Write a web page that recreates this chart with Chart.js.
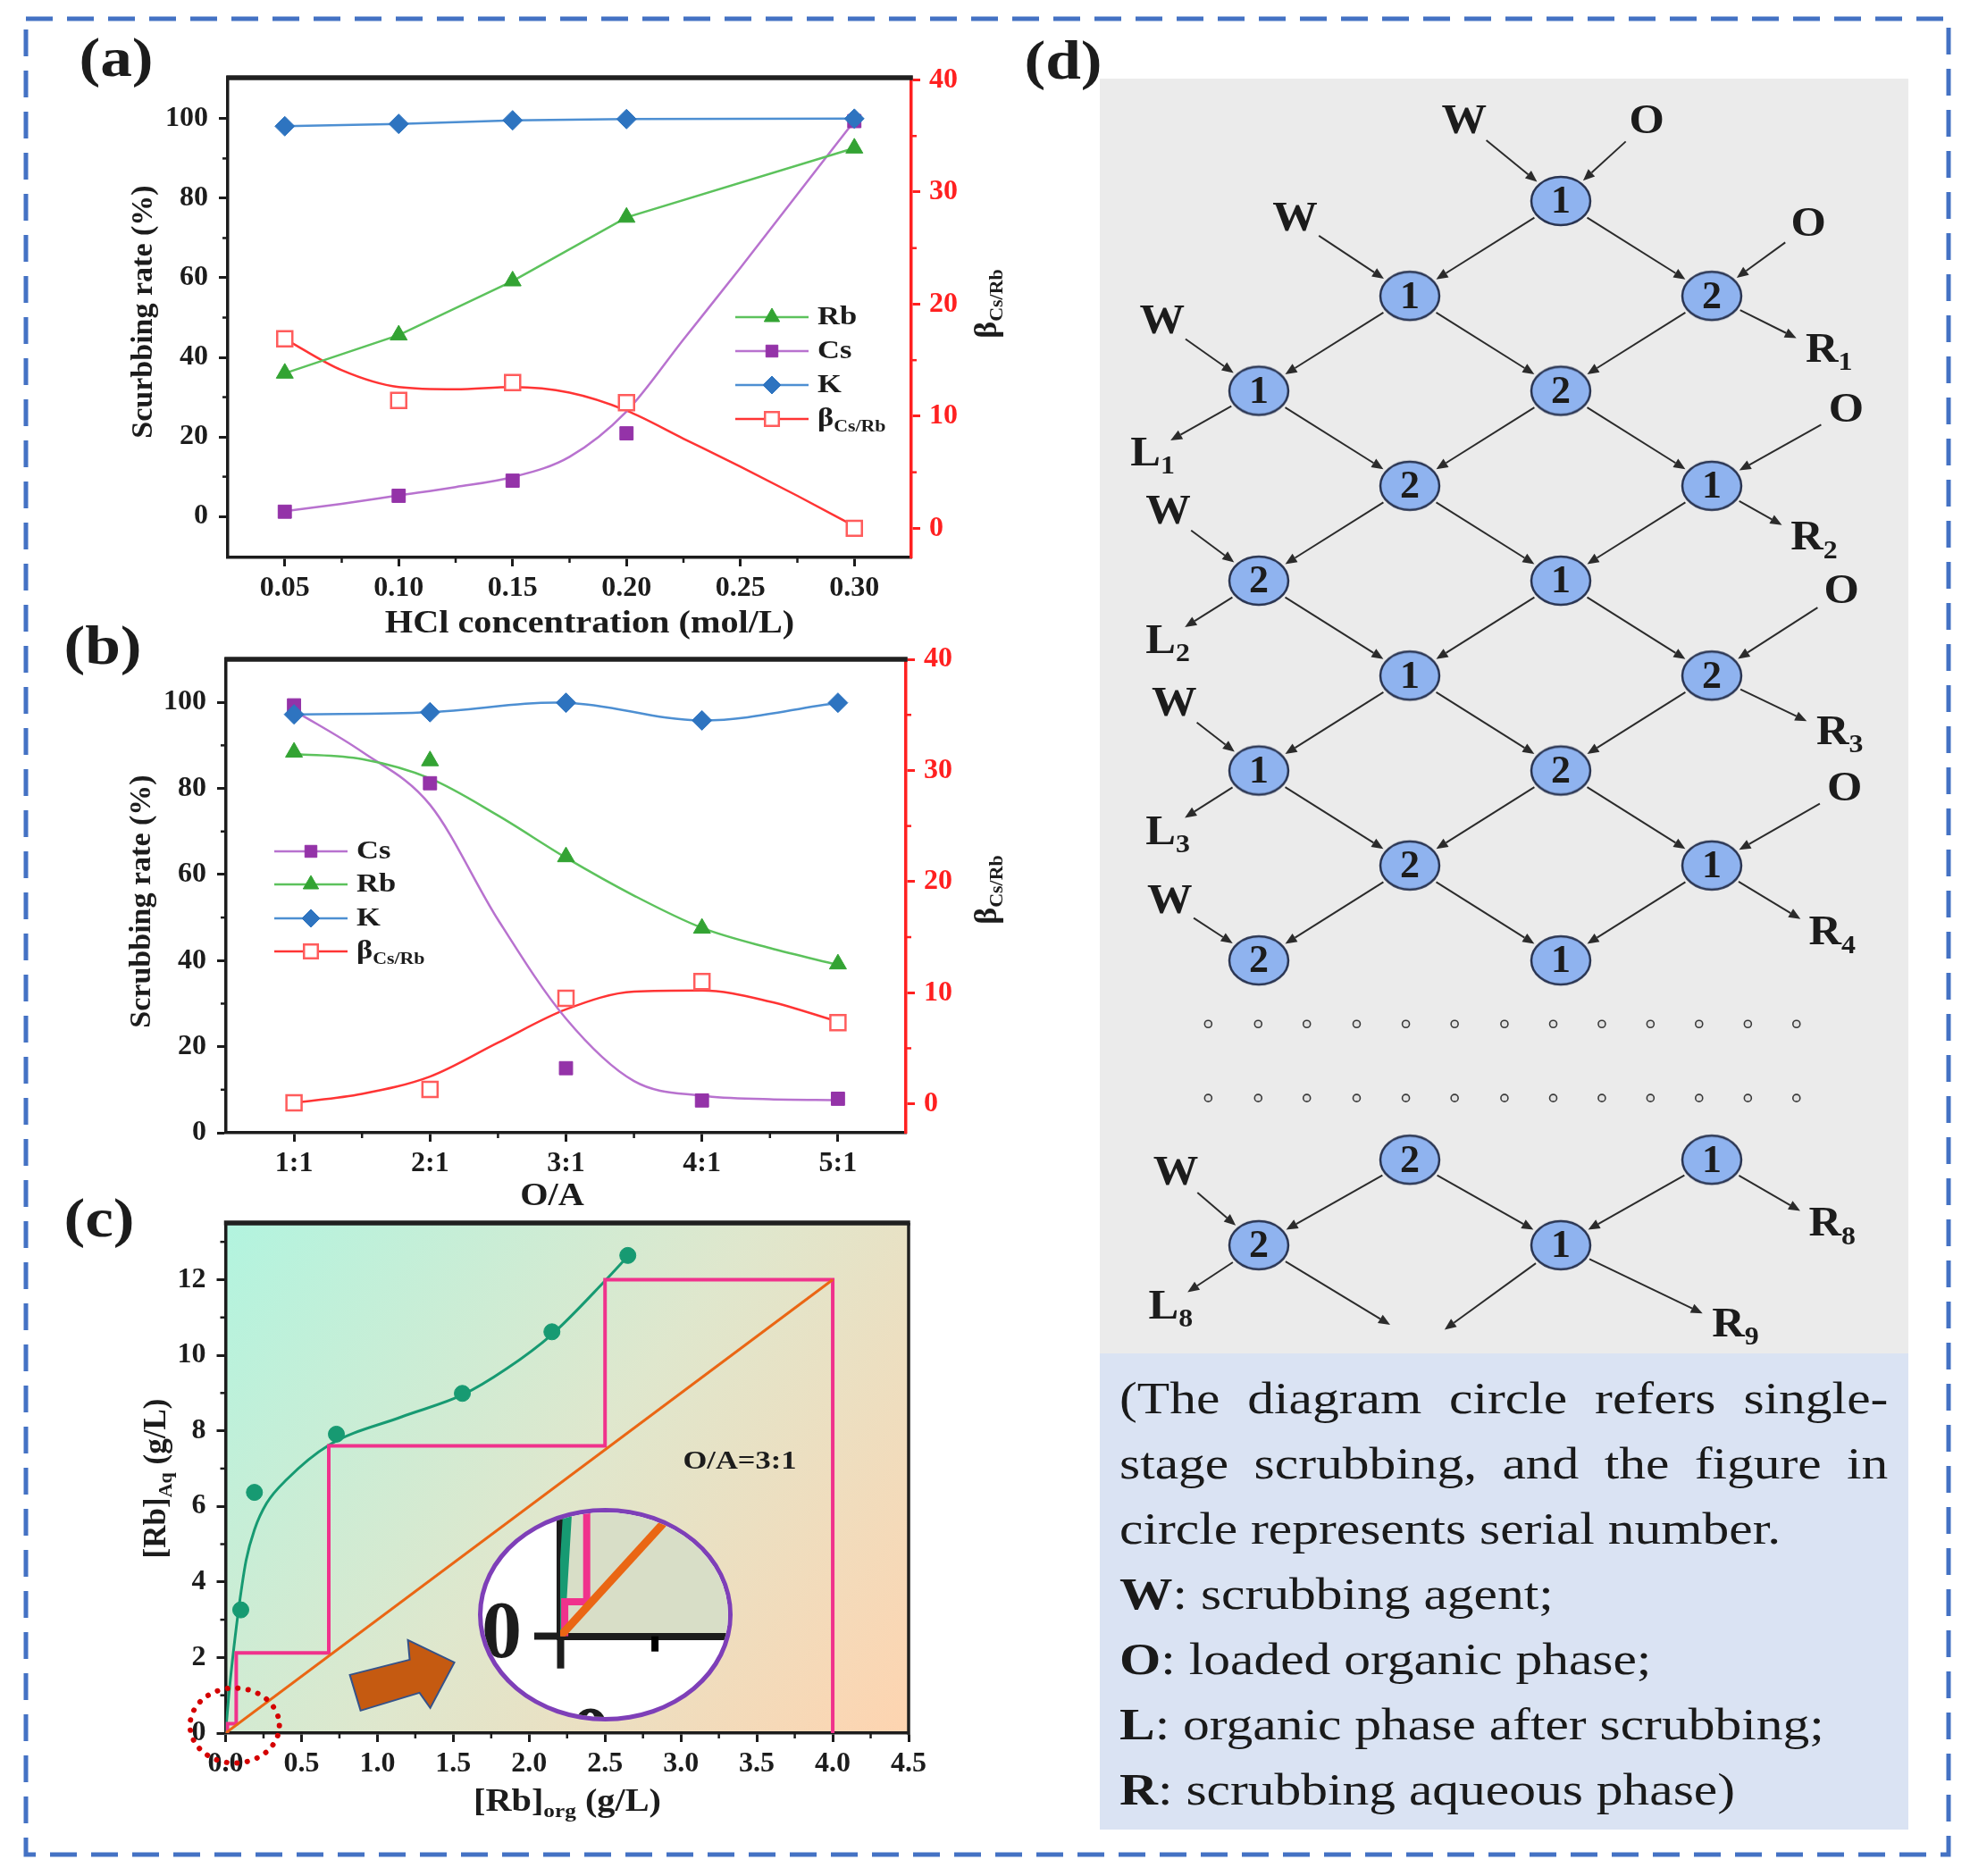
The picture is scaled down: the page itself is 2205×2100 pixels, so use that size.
<!DOCTYPE html>
<html>
<head>
<meta charset="utf-8">
<script src="https://cdn.jsdelivr.net/npm/chart.js@4.4.1/dist/chart.umd.min.js"></script>
<style>
  html, body { margin: 0; padding: 0; background: #fff; }
  body { width: 2205px; height: 2100px; position: relative; overflow: hidden; }
  canvas { position: absolute; left: 0; top: 0; }
  #insetWrap { position: absolute; left: 535px; top: 1688px; width: 275px; height: 229px;
    border: 5px solid #7e3fb8; border-radius: 50%; overflow: hidden; background: #fff; }
  #diagram { left: 1231px; top: 88px; background: #ebebeb; }
  #note { position: absolute; left: 1231px; top: 1515px; width: 905px; height: 533px; background: #dae3f3; }
  #note .inner { position: absolute; left: 22px; top: 14px; width: 723px; transform: scaleX(1.19); transform-origin: 0 0;
    font: 50px 'Liberation Serif', 'Times New Roman', serif; line-height: 73px; color: #1a1a1a; white-space: nowrap; }
  #note .j { text-align: justify; text-align-last: justify; white-space: normal; }
  #border { position: absolute; left: 0; top: 0; pointer-events: none; }
</style>
</head>
<body>
<canvas id="chartA" width="2205" height="2100"></canvas>
<canvas id="chartB" width="2205" height="2100"></canvas>
<canvas id="chartC" width="2205" height="2100"></canvas>
<div id="insetWrap"><canvas id="inset" width="275" height="229"></canvas></div>
<canvas id="diagram" width="905" height="1427"></canvas>
<div id="note"><div class="inner">
  <div class="j">(The diagram circle refers single-</div>
  <div class="j">stage scrubbing, and the figure in</div>
  <div>circle represents serial number.</div>
  <div><b>W</b>: scrubbing agent;</div>
  <div><b>O</b>: loaded organic phase;</div>
  <div><b>L</b>: organic phase after scrubbing;</div>
  <div><b>R</b>: scrubbing aqueous phase)</div>
</div></div>
<svg id="border" width="2205" height="2100">
  <rect x="29" y="21" width="2152" height="2055" fill="none" stroke="#4472c4" stroke-width="5" stroke-dasharray="30 16"/>
</svg>

<script>
// ---- (a) scrubbing vs HCl concentration ----
const hclConc  = [0.05, 0.10, 0.15, 0.20, 0.30];
const aRb      = [36.0, 45.6, 59.2, 75.2, 92.6];
const aCs      = [1.2, 5.2, 9.0, 20.9, 99.4];
const aK       = [98.1, 98.7, 99.6, 99.9, 100.0];
const aBeta    = [16.9, 11.4, 13.0, 11.2, 0.0];
// fitted curves
const aFitX    = [0.05, 0.075, 0.10, 0.125, 0.15, 0.175, 0.20, 0.225, 0.25, 0.275, 0.30];
const aCsFit   = [1.3, 3.2, 5.3, 7.4, 9.9, 15.0, 26.4, 44.5, 62.5, 81.0, 99.4];
const aBetaFit = [16.9, 14.1, 12.6, 12.4, 12.6, 12.1, 10.5, 8.0, 5.5, 2.9, 0.2];
const aXTicks  = [0.05, 0.10, 0.15, 0.20, 0.25, 0.30];
const aXLabels = ['0.05', '0.10', '0.15', '0.20', '0.25', '0.30'];
const aXMinor  = [0.075, 0.125, 0.175, 0.225, 0.275];

// ---- (b) scrubbing vs O/A ratio ----
const oaRatio  = [1, 2, 3, 4, 5];
const oaLabels = ['1:1', '2:1', '3:1', '4:1', '5:1'];
const oaMinor  = [1.5, 2.5, 3.5, 4.5];
const bCs      = [99.3, 81.2, 15.0, 7.5, 7.9];
const bRb      = [88.4, 86.4, 64.1, 47.5, 39.2];
const bK       = [97.2, 97.7, 99.9, 95.8, 99.9];
const bBeta    = [0.1, 1.3, 9.5, 11.0, 7.3];
const bFitX    = [1, 1.5, 2, 2.5, 3, 3.5, 4, 4.5, 5];
const bCsFit   = [98.1, 88.5, 76.2, 49.5, 26.5, 12.0, 8.6, 7.8, 7.6];
const bRbFit   = [88.0, 86.8, 82.3, 73.7, 63.9, 55.1, 47.6, 42.9, 39.0];
const bBetaFit = [0.1, 0.9, 2.45, 5.5, 8.5, 10.1, 10.2, 9.2, 7.4];

// shared rate / beta axes
const rateTicks = [0, 20, 40, 60, 80, 100];
const rateMinor = [10, 30, 50, 70, 90];
const betaTicks = [0, 10, 20, 30, 40];
const betaMinor = [5, 15, 25, 35];

// ---- (c) McCabe-Thiele diagram ----
const eqOrg    = [0.10, 0.19, 0.73, 1.56, 2.15, 2.65];
const eqAq     = [3.26, 6.37, 7.91, 8.99, 10.62, 12.64];
const eqFitOrg = [0, 0.023, 0.054, 0.09, 0.135, 0.19, 0.27, 0.405, 0.68, 1.16, 1.56, 1.85, 2.15, 2.5, 2.65];
const eqFitAq  = [0, 1.07, 2.24, 3.4, 4.57, 5.38, 6.08, 6.72, 7.62, 8.37, 8.95, 9.64, 10.55, 11.97, 12.62];
const opOrg    = [0, 4.0];
const opAq     = [0, 12.0];
const stairOrg = [4.0, 4.0, 2.5, 2.5, 0.68, 0.68, 0.07, 0.07, 0.012, 0.012];
const stairAq  = [0, 12.0, 12.0, 7.6, 7.6, 2.12, 2.12, 0.25, 0.25, 0];
const orgTicks  = [0, 0.5, 1, 1.5, 2, 2.5, 3, 3.5, 4, 4.5];
const orgLabels = ['0.0', '0.5', '1.0', '1.5', '2.0', '2.5', '3.0', '3.5', '4.0', '4.5'];
const orgMinor  = [0.25, 0.75, 1.25, 1.75, 2.25, 2.75, 3.25, 3.75, 4.25];
const aqTicks   = [0, 2, 4, 6, 8, 10, 12];
const aqMinor   = [1, 3, 5, 7, 9, 11, 13];

// ---- (d) counter-current scrubbing cascade ----
// [column, row, serial number]
const stageNodes = [
  [2, 0, 1],
  [1, 1, 1], [3, 1, 2],
  [0, 2, 1], [2, 2, 2],
  [1, 3, 2], [3, 3, 1],
  [0, 4, 2], [2, 4, 1],
  [1, 5, 1], [3, 5, 2],
  [0, 6, 1], [2, 6, 2],
  [1, 7, 2], [3, 7, 1],
  [0, 8, 2], [2, 8, 1],
  [1, 10.1, 2], [3, 10.1, 1],
  [0, 11, 2], [2, 11, 1]
];
// [column, row, letter, subscript]
const streamLabels = [
  [1.36, -0.83, 'W', ''], [2.57, -0.83, 'O', ''],
  [0.24, 0.20, 'W', ''], [3.64, 0.26, 'O', ''],
  [-0.64, 1.28, 'W', ''], [3.73, 1.58, 'R', '1'],
  [-0.75, 2.67, 'L', '1'], [3.89, 2.21, 'O', ''],
  [-0.60, 3.29, 'W', ''], [3.63, 3.56, 'R', '2'],
  [-0.65, 4.65, 'L', '2'], [3.86, 4.12, 'O', ''],
  [-0.56, 5.31, 'W', ''], [3.80, 5.61, 'R', '3'],
  [-0.65, 6.66, 'L', '3'], [3.88, 6.20, 'O', ''],
  [-0.59, 7.39, 'W', ''], [3.75, 7.72, 'R', '4'],
  [-0.55, 10.25, 'W', ''], [3.75, 10.79, 'R', '8'],
  [-0.63, 11.66, 'L', '8'], [3.11, 11.85, 'R', '9']
];
const openEnds = [[0.87, 11.84], [1.23, 11.89]];
const stageFlows = [
  ['s0', 'n0'], ['s1', 'n0'],
  ['n0', 'n1'], ['n0', 'n2'], ['s2', 'n1'], ['s3', 'n2'],
  ['n1', 'n3'], ['n1', 'n4'], ['n2', 'n4'], ['n2', 's5'], ['s4', 'n3'],
  ['n3', 's6'], ['n3', 'n5'], ['n4', 'n5'], ['n4', 'n6'], ['s7', 'n6'],
  ['n5', 'n7'], ['n5', 'n8'], ['n6', 'n8'], ['n6', 's9'], ['s8', 'n7'],
  ['n7', 's10'], ['n7', 'n9'], ['n8', 'n9'], ['n8', 'n10'], ['s11', 'n10'],
  ['n9', 'n11'], ['n9', 'n12'], ['n10', 'n12'], ['n10', 's13'], ['s12', 'n11'],
  ['n11', 's14'], ['n11', 'n13'], ['n12', 'n13'], ['n12', 'n14'], ['s15', 'n14'],
  ['n13', 'n15'], ['n13', 'n16'], ['n14', 'n16'], ['n14', 's17'], ['s16', 'n15'],
  ['n17', 'n19'], ['n17', 'n20'], ['n18', 'n20'], ['n18', 's19'], ['s18', 'n19'],
  ['n19', 's20'], ['n19', 'e0'], ['n20', 'e1'], ['n20', 's21']
];
const dotCols = [-0.335, -0.004, 0.318, 0.648, 0.974, 1.297, 1.627, 1.950, 2.272, 2.594, 2.916, 3.239, 3.561];
const dotRows = [8.67, 9.45];

// ---------------------------------------------------------------
const PAGE_W = 2205, PAGE_H = 2100;
const FONT = "'Liberation Serif', 'Times New Roman', serif";
const INK = '#1c1c1c', RED = '#ff2020';
const C_RB = '#5cc25c', C_RB_PT = '#33a333';
const C_CS = '#b872cf', C_CS_PT = '#9433a8';
const C_K = '#4d8fd2', C_K_PT = '#2e74c0';
const C_BETA = '#ff3434', C_BETA_PT = '#ff5c5c';
const C_EQ = '#179a72', C_STAGE = '#f0328c', C_OP = '#ea6614';

const AREA_A = { left: 255, right: 1020, top: 87, bottom: 624 };
const AREA_B = { left: 253, right: 1014, top: 738, bottom: 1268 };
const AREA_C = { left: 252.5, right: 1017, top: 1369, bottom: 1940 };

Chart.defaults.font.family = FONT;
Chart.defaults.animation = false;
Chart.defaults.responsive = false;
Chart.defaults.events = [];
Chart.defaults.plugins.legend.display = false;
Chart.defaults.plugins.tooltip.enabled = false;

function pts(xs, ys) { return xs.map((x, i) => ({ x: x, y: ys[i] })); }

// rich text: runs = [[text, isSubscript], ...]
function drawRich(ctx, runs, x, y, o) {
  if (typeof runs === 'string') runs = [[runs, 0]];
  const size = o.size || 34, sub = Math.round(size * 0.62);
  const fontOf = s => 'bold ' + (s ? sub : size) + 'px ' + FONT;
  ctx.save();
  ctx.translate(x, y);
  if (o.rot) ctx.rotate(o.rot);
  ctx.scale(o.sx || 1, 1);
  ctx.textBaseline = 'middle';
  ctx.textAlign = 'left';
  ctx.fillStyle = o.color || INK;
  let w = 0;
  runs.forEach(r => { ctx.font = fontOf(r[1]); w += ctx.measureText(r[0]).width; });
  ctx.font = fontOf(runs[0][1]);
  let cx = o.align === 'left' ? 0 : o.align === 'first' ? -ctx.measureText(runs[0][0]).width / 2 : -w / 2;
  runs.forEach(r => {
    ctx.font = fontOf(r[1]);
    ctx.fillText(r[0], cx, r[1] ? size * 0.3 : 0);
    cx += ctx.measureText(r[0]).width;
  });
  ctx.restore();
}

function axis(o) {
  const ink = o.color || INK;
  return {
    type: 'linear', position: o.pos, min: o.min, max: o.max,
    afterFit: s => {
      if (o.pos === 'bottom') s.height = o.size; else s.width = o.size;
      s.paddingTop = s.paddingBottom = s.paddingLeft = s.paddingRight = 0;
    },
    afterBuildTicks: s => { s.ticks = o.ticks.map(v => ({ value: v })); },
    ticks: {
      color: ink, padding: o.pad ?? 8, maxRotation: 0, minRotation: 0, autoSkip: false,
      labelOffset: o.shift || 0,
      font: { family: FONT, size: o.font || 32, weight: 'bold' },
      callback: (v, i) => (o.labels ? o.labels[i] : String(v))
    },
    grid: { display: true, drawOnChartArea: false, drawTicks: true, tickLength: o.tick ?? 10,
            tickWidth: o.tw || 3, tickColor: ink },
    border: { display: true, width: o.bw || 3.5, color: ink }
  };
}

function markerSet(label, data, style, fill, extra) {
  return Object.assign({
    label: label, data: data, showLine: false, pointStyle: style, pointRadius: 11,
    pointBackgroundColor: fill, pointBorderColor: fill, pointBorderWidth: 1,
    borderWidth: 2.5, borderColor: fill, tension: 0, yAxisID: 'y'
  }, extra || {});
}
function curveSet(label, data, color, extra) {
  return Object.assign({
    label: label, data: data, showLine: true, pointRadius: 0, borderColor: color,
    borderWidth: 2.5, cubicInterpolationMode: 'monotone', yAxisID: 'y'
  }, extra || {});
}

function textPlugin(id, items) {
  return { id: id, afterDraw(chart) { items.forEach(it => drawRich(chart.ctx, it.t, it.x, it.y, it)); } };
}
function minorPlugin(id, list) {
  return { id: id, afterDraw(chart) {
    const ctx = chart.ctx;
    list.forEach(([sid, vals, len, color, width]) => {
      const s = chart.scales[sid];
      ctx.save();
      ctx.strokeStyle = color; ctx.lineWidth = width;
      vals.forEach(v => {
        const p = s.getPixelForValue(v);
        ctx.beginPath();
        if (s.isHorizontal()) { ctx.moveTo(p, s.top); ctx.lineTo(p, s.top + len); }
        else if (s.position === 'left') { ctx.moveTo(s.right, p); ctx.lineTo(s.right - len, p); }
        else { ctx.moveTo(s.left, p); ctx.lineTo(s.left + len, p); }
        ctx.stroke();
      });
      ctx.restore();
    });
  }};
}
function framePlugin(id, withRight) {
  return { id: id, afterDraw(chart) {
    const a = chart.chartArea, ctx = chart.ctx;
    ctx.save();
    ctx.strokeStyle = '#202020';
    ctx.lineWidth = 5.5;
    ctx.beginPath(); ctx.moveTo(a.left - 1.75, a.top); ctx.lineTo(a.right + 1.75, a.top); ctx.stroke();
    if (withRight) {
      ctx.lineWidth = 3.5;
      ctx.beginPath(); ctx.moveTo(a.right, a.top); ctx.lineTo(a.right, a.bottom + 1.75); ctx.stroke();
    }
    ctx.restore();
  }};
}
function legendPlugin(id, items, x0, ys) {
  return { id: id, afterDraw(chart) {
    const ctx = chart.ctx;
    items.forEach((it, i) => {
      const y = ys[i], ds = chart.data.datasets[it.ds];
      ctx.save();
      ctx.strokeStyle = it.line; ctx.lineWidth = 2.5;
      ctx.beginPath(); ctx.moveTo(x0, y); ctx.lineTo(x0 + 82, y); ctx.stroke();
      ctx.fillStyle = ds.pointBackgroundColor; ctx.strokeStyle = ds.pointBorderColor;
      ctx.lineWidth = ds.pointBorderWidth;
      Chart.helpers.drawPoint(ctx, { pointStyle: ds.pointStyle, radius: ds.pointRadius - 1, rotation: 0,
        borderWidth: ds.pointBorderWidth }, x0 + 41, y);
      ctx.restore();
      drawRich(ctx, it.text, x0 + 92, y, { size: 30, sx: 1.15, align: 'left' });
    });
  }};
}
function pinnedLayout(area, rightPad) {
  return { autoPadding: false, padding: { top: area.top, left: 0, right: rightPad || 0, bottom: 0 } };
}
const BETA = [['β', 0], ['Cs/Rb', 1]];

// ------------------------- chart (a) -------------------------
const dsA = [
  markerSet('K', pts(hclConc, aK), 'rectRot', C_K_PT, { showLine: true, borderColor: C_K }),
  markerSet('Rb', pts(hclConc, aRb), 'triangle', C_RB_PT, { showLine: true, borderColor: C_RB }),
  markerSet('Cs', pts(hclConc, aCs), 'rect', C_CS_PT, { pointRadius: 10.5 }),
  markerSet('β', pts(hclConc, aBeta), 'rect', '#ffffff', { pointBorderColor: C_BETA_PT, pointBorderWidth: 2.5, pointRadius: 12, yAxisID: 'y1' }),
  curveSet('Cs fit', pts(aFitX, aCsFit), C_CS),
  curveSet('β fit', pts(aFitX, aBetaFit), C_BETA, { yAxisID: 'y1' })
];
new Chart(document.getElementById('chartA'), {
  type: 'line',
  data: { datasets: dsA },
  options: {
    layout: pinnedLayout(AREA_A),
    scales: {
      x: axis({ pos: 'bottom', min: 0.025, max: 0.325, ticks: aXTicks, labels: aXLabels, size: PAGE_H - AREA_A.bottom, pad: 6 }),
      y: axis({ pos: 'left', min: -10.3, max: 110.3, ticks: rateTicks, size: AREA_A.left, pad: 12 }),
      y1: axis({ pos: 'right', min: -2.6, max: 40.2, ticks: betaTicks, size: PAGE_W - AREA_A.right, color: RED, pad: 10 })
    }
  },
  plugins: [
    framePlugin('frameA', false),
    minorPlugin('minorA', [['x', aXMinor, 6, INK, 2.5], ['y', rateMinor, 6, INK, 2.5], ['y1', betaMinor, 6, RED, 2.5]]),
    legendPlugin('legendA', [
      { ds: 1, line: C_RB, text: 'Rb' }, { ds: 2, line: C_CS, text: 'Cs' },
      { ds: 0, line: C_K, text: 'K' }, { ds: 3, line: C_BETA, text: BETA }
    ], 823, [355, 393, 431, 469]),
    textPlugin('textA', [
      { t: '(a)', x: 130, y: 69, size: 62, sx: 1.15 },
      { t: '(d)', x: 1190, y: 72, size: 62, sx: 1.15 },
      { t: 'Scurbbing rate (%)', x: 161, y: 349, size: 34, rot: -Math.PI / 2 },
      { t: 'HCl concentration (mol/L)', x: 660, y: 699, size: 35, sx: 1.15 },
      { t: BETA, x: 1106, y: 340, size: 36, rot: -Math.PI / 2 }
    ])
  ]
});

// ------------------------- chart (b) -------------------------
const dsB = [
  markerSet('K', pts(oaRatio, bK), 'rectRot', C_K_PT, { showLine: true, borderColor: C_K, tension: 0.35 }),
  markerSet('Rb', pts(oaRatio, bRb), 'triangle', C_RB_PT),
  markerSet('Cs', pts(oaRatio, bCs), 'rect', C_CS_PT, { pointRadius: 10.5 }),
  markerSet('β', pts(oaRatio, bBeta), 'rect', '#ffffff', { pointBorderColor: C_BETA_PT, pointBorderWidth: 2.5, pointRadius: 12, yAxisID: 'y1' }),
  curveSet('Rb fit', pts(bFitX, bRbFit), C_RB),
  curveSet('Cs fit', pts(bFitX, bCsFit), C_CS),
  curveSet('β fit', pts(bFitX, bBetaFit), C_BETA, { yAxisID: 'y1' })
];
new Chart(document.getElementById('chartB'), {
  type: 'line',
  data: { datasets: dsB },
  options: {
    layout: pinnedLayout(AREA_B),
    scales: {
      x: axis({ pos: 'bottom', min: 0.5, max: 5.5, ticks: oaRatio, labels: oaLabels, size: PAGE_H - AREA_B.bottom, pad: 6 }),
      y: axis({ pos: 'left', min: 0, max: 110, ticks: rateTicks, size: AREA_B.left, pad: 12 }),
      y1: axis({ pos: 'right', min: -2.6, max: 40, ticks: betaTicks, size: PAGE_W - AREA_B.right, color: RED, pad: 10 })
    }
  },
  plugins: [
    framePlugin('frameB', false),
    minorPlugin('minorB', [['x', oaMinor, 6, INK, 2.5], ['y', rateMinor, 6, INK, 2.5], ['y1', betaMinor, 6, RED, 2.5]]),
    legendPlugin('legendB', [
      { ds: 2, line: C_CS, text: 'Cs' }, { ds: 1, line: C_RB, text: 'Rb' },
      { ds: 0, line: C_K, text: 'K' }, { ds: 3, line: C_BETA, text: BETA }
    ], 307, [953, 990, 1028, 1065]),
    textPlugin('textB', [
      { t: '(b)', x: 115, y: 727, size: 62, sx: 1.15 },
      { t: 'Scrubbing rate (%)', x: 159, y: 1009, size: 34, rot: -Math.PI / 2 },
      { t: 'O/A', x: 618, y: 1340, size: 35, sx: 1.15 },
      { t: BETA, x: 1106, y: 996, size: 36, rot: -Math.PI / 2 }
    ])
  ]
});

// ------------------------- chart (c) -------------------------
const zoomMark = { x: 0.06, y: 0.2, rx: 50, ry: 42 };
const pointerAt = { x: 1.16, y: 1.54 };
const pointerShape = [[-58, 0], [9, -17], [7, -39], [59, -14], [32, 37], [20, 20], [-46, 40]];

function stageSets(w) {
  return [
    { label: 'operating line', data: pts(opOrg, opAq), showLine: true, pointRadius: 0, borderColor: C_OP, borderWidth: w[0], tension: 0 },
    { label: 'stages', data: pts(stairOrg, stairAq), showLine: true, pointRadius: 0, borderColor: C_STAGE, borderWidth: w[1], tension: 0 },
    curveSet('equilibrium curve', pts(eqFitOrg, eqFitAq), C_EQ, { borderWidth: w[2] })
  ];
}
const dsC = [
  { label: 'equilibrium data', data: pts(eqOrg, eqAq), showLine: false, pointStyle: 'circle', pointRadius: 9,
    pointBackgroundColor: C_EQ, pointBorderColor: C_EQ, yAxisID: 'y' }
].concat(stageSets([3, 4, 3]));

new Chart(document.getElementById('chartC'), {
  type: 'line',
  data: { datasets: dsC },
  options: {
    layout: pinnedLayout(AREA_C, PAGE_W - AREA_C.right),
    scales: {
      x: axis({ pos: 'bottom', min: 0, max: 4.5, ticks: orgTicks, labels: orgLabels, size: PAGE_H - AREA_C.bottom, pad: 6 }),
      y: axis({ pos: 'left', min: 0, max: 13.5, ticks: aqTicks, size: AREA_C.left, pad: 12 })
    }
  },
  plugins: [
    { id: 'gradientBg', beforeDraw(chart) {
      const a = chart.chartArea, ctx = chart.ctx;
      const g = ctx.createLinearGradient(a.left, a.top, a.right, a.bottom);
      g.addColorStop(0, '#b2f4df');
      g.addColorStop(0.5, '#dfe7cd');
      g.addColorStop(1, '#fed4b0');
      ctx.save(); ctx.fillStyle = g; ctx.fillRect(a.left, a.top, a.right - a.left, a.bottom - a.top); ctx.restore();
    }},
    framePlugin('frameC', true),
    minorPlugin('minorC', [['x', orgMinor, 6, INK, 2.5], ['y', aqMinor, 6, INK, 2.5]]),
    { id: 'decorC', afterDraw(chart) {
      const ctx = chart.ctx, sx = chart.scales.x, sy = chart.scales.y;
      // dotted ring around the origin
      ctx.save();
      ctx.strokeStyle = '#d40000'; ctx.lineWidth = 6; ctx.lineCap = 'round'; ctx.setLineDash([0.1, 11.5]);
      ctx.beginPath();
      ctx.ellipse(sx.getPixelForValue(zoomMark.x), sy.getPixelForValue(zoomMark.y), zoomMark.rx, zoomMark.ry, 0, 0, Math.PI * 2);
      ctx.stroke();
      ctx.restore();
      // pointer arrow towards the magnified inset
      const ax = sx.getPixelForValue(pointerAt.x), ay = sy.getPixelForValue(pointerAt.y);
      ctx.save();
      ctx.beginPath();
      pointerShape.forEach((p, i) => (i ? ctx.lineTo(ax + p[0], ay + p[1]) : ctx.moveTo(ax + p[0], ay + p[1])));
      ctx.closePath();
      ctx.fillStyle = '#c55a11'; ctx.fill();
      ctx.strokeStyle = '#34528a'; ctx.lineWidth = 2; ctx.stroke();
      ctx.restore();
    }},
    textPlugin('textC', [
      { t: '(c)', x: 111, y: 1368, size: 62, sx: 1.15 },
      { t: [['[Rb]', 0], ['Aq', 1], [' (g/L)', 0]], x: 176, y: 1655, size: 35, rot: -Math.PI / 2 },
      { t: [['[Rb]', 0], ['org', 1], [' (g/L)', 0]], x: 635, y: 2018, size: 35, sx: 1.15 },
      { t: 'O/A=3:1', x: 828, y: 1636, size: 30, sx: 1.15 }
    ])
  ]
});

// magnified view of the origin
new Chart(document.getElementById('inset'), {
  type: 'line',
  data: { datasets: stageSets([9, 8, 10]) },
  options: {
    layout: { autoPadding: false, padding: 0 },
    scales: {
      x: axis({ pos: 'bottom', min: 0, max: 0.443, ticks: [0], labels: ['0'], size: 90.3, font: 90, tick: 36, tw: 8, bw: 8, pad: 28, shift: 34 }),
      y: axis({ pos: 'left', min: 0, max: 0.895, ticks: [0], labels: ['0'], size: 87, font: 90, tick: 29, tw: 8, bw: 8, pad: 14 })
    }
  },
  plugins: [
    { id: 'insetBg', beforeDraw(chart) {
      const a = chart.chartArea, ctx = chart.ctx;
      ctx.save(); ctx.fillStyle = '#d8dec7'; ctx.fillRect(a.left, a.top, a.right - a.left, a.bottom - a.top); ctx.restore();
    }},
    minorPlugin('minorInset', [['x', [0.25], 17, '#000', 8]])
  ]
});

// ------------------------- diagram (d) -------------------------
const NODE_RX = 33, NODE_RY = 27;
const nodeImg = document.createElement('canvas');
nodeImg.width = 72; nodeImg.height = 60;
(function () {
  const g = nodeImg.getContext('2d');
  g.fillStyle = '#8fb3ef'; g.strokeStyle = '#2a3552'; g.lineWidth = 2.5;
  g.beginPath(); g.ellipse(36, 30, NODE_RX, NODE_RY, 0, 0, Math.PI * 2); g.fill(); g.stroke();
})();

function flowPoint(chart, name) {
  const k = name[0], i = +name.slice(1);
  const src = k === 'n' ? stageNodes[i] : k === 's' ? streamLabels[i] : openEnds[i];
  return { x: chart.scales.x.getPixelForValue(src[0]), y: chart.scales.y.getPixelForValue(src[1]) };
}
function endTrim(name, ux, uy) {
  if (name[0] === 'n') return 1 / Math.hypot(ux / NODE_RX, uy / NODE_RY) + 4;
  if (name[0] === 's') return 32;
  return 0;
}

new Chart(document.getElementById('diagram'), {
  type: 'scatter',
  data: { datasets: [
    { label: 'stages', data: stageNodes.map(n => ({ x: n[0], y: n[1] })), pointStyle: nodeImg, pointRadius: 30 },
    { label: 'continuation', data: dotRows.flatMap(r => dotCols.map(c => ({ x: c, y: r }))), pointStyle: 'circle',
      pointRadius: 4, pointBackgroundColor: '#e2e2e2', pointBorderColor: '#3a3a3a', pointBorderWidth: 1.6 }
  ]},
  options: {
    layout: { autoPadding: false, padding: 0 },
    scales: {
      x: { type: 'linear', display: false, min: -1.053, max: 4.302 },
      y: { type: 'linear', display: false, min: -1.289, max: 12.14, reverse: true }
    }
  },
  plugins: [{
    id: 'flows',
    beforeDatasetsDraw(chart) {
      const ctx = chart.ctx;
      ctx.save();
      ctx.strokeStyle = '#2b2b2b'; ctx.fillStyle = '#2b2b2b'; ctx.lineWidth = 2;
      stageFlows.forEach(([a, b]) => {
        const p = flowPoint(chart, a), q = flowPoint(chart, b);
        const len = Math.hypot(q.x - p.x, q.y - p.y), ux = (q.x - p.x) / len, uy = (q.y - p.y) / len;
        const s = endTrim(a, ux, uy), e = endTrim(b, ux, uy);
        const x0 = p.x + ux * s, y0 = p.y + uy * s, x1 = q.x - ux * e, y1 = q.y - uy * e;
        const hx = x1 - ux * 13, hy = y1 - uy * 13;
        ctx.beginPath(); ctx.moveTo(x0, y0); ctx.lineTo(hx, hy); ctx.stroke();
        ctx.beginPath(); ctx.moveTo(x1, y1);
        ctx.lineTo(hx - uy * 5.5, hy + ux * 5.5); ctx.lineTo(hx + uy * 5.5, hy - ux * 5.5);
        ctx.closePath(); ctx.fill();
      });
      ctx.restore();
    },
    afterDatasetsDraw(chart) {
      const ctx = chart.ctx, sx = chart.scales.x, sy = chart.scales.y;
      stageNodes.forEach(n => drawRich(ctx, String(n[2]), sx.getPixelForValue(n[0]), sy.getPixelForValue(n[1]) + 2, { size: 44 }));
      streamLabels.forEach(l => drawRich(ctx, l[3] ? [[l[2], 0], [l[3], 1]] : l[2],
        sx.getPixelForValue(l[0]), sy.getPixelForValue(l[1]), { size: 46, sx: 1.1, align: 'first' }));
    }
  }]
});
</script>
</body>
</html>
